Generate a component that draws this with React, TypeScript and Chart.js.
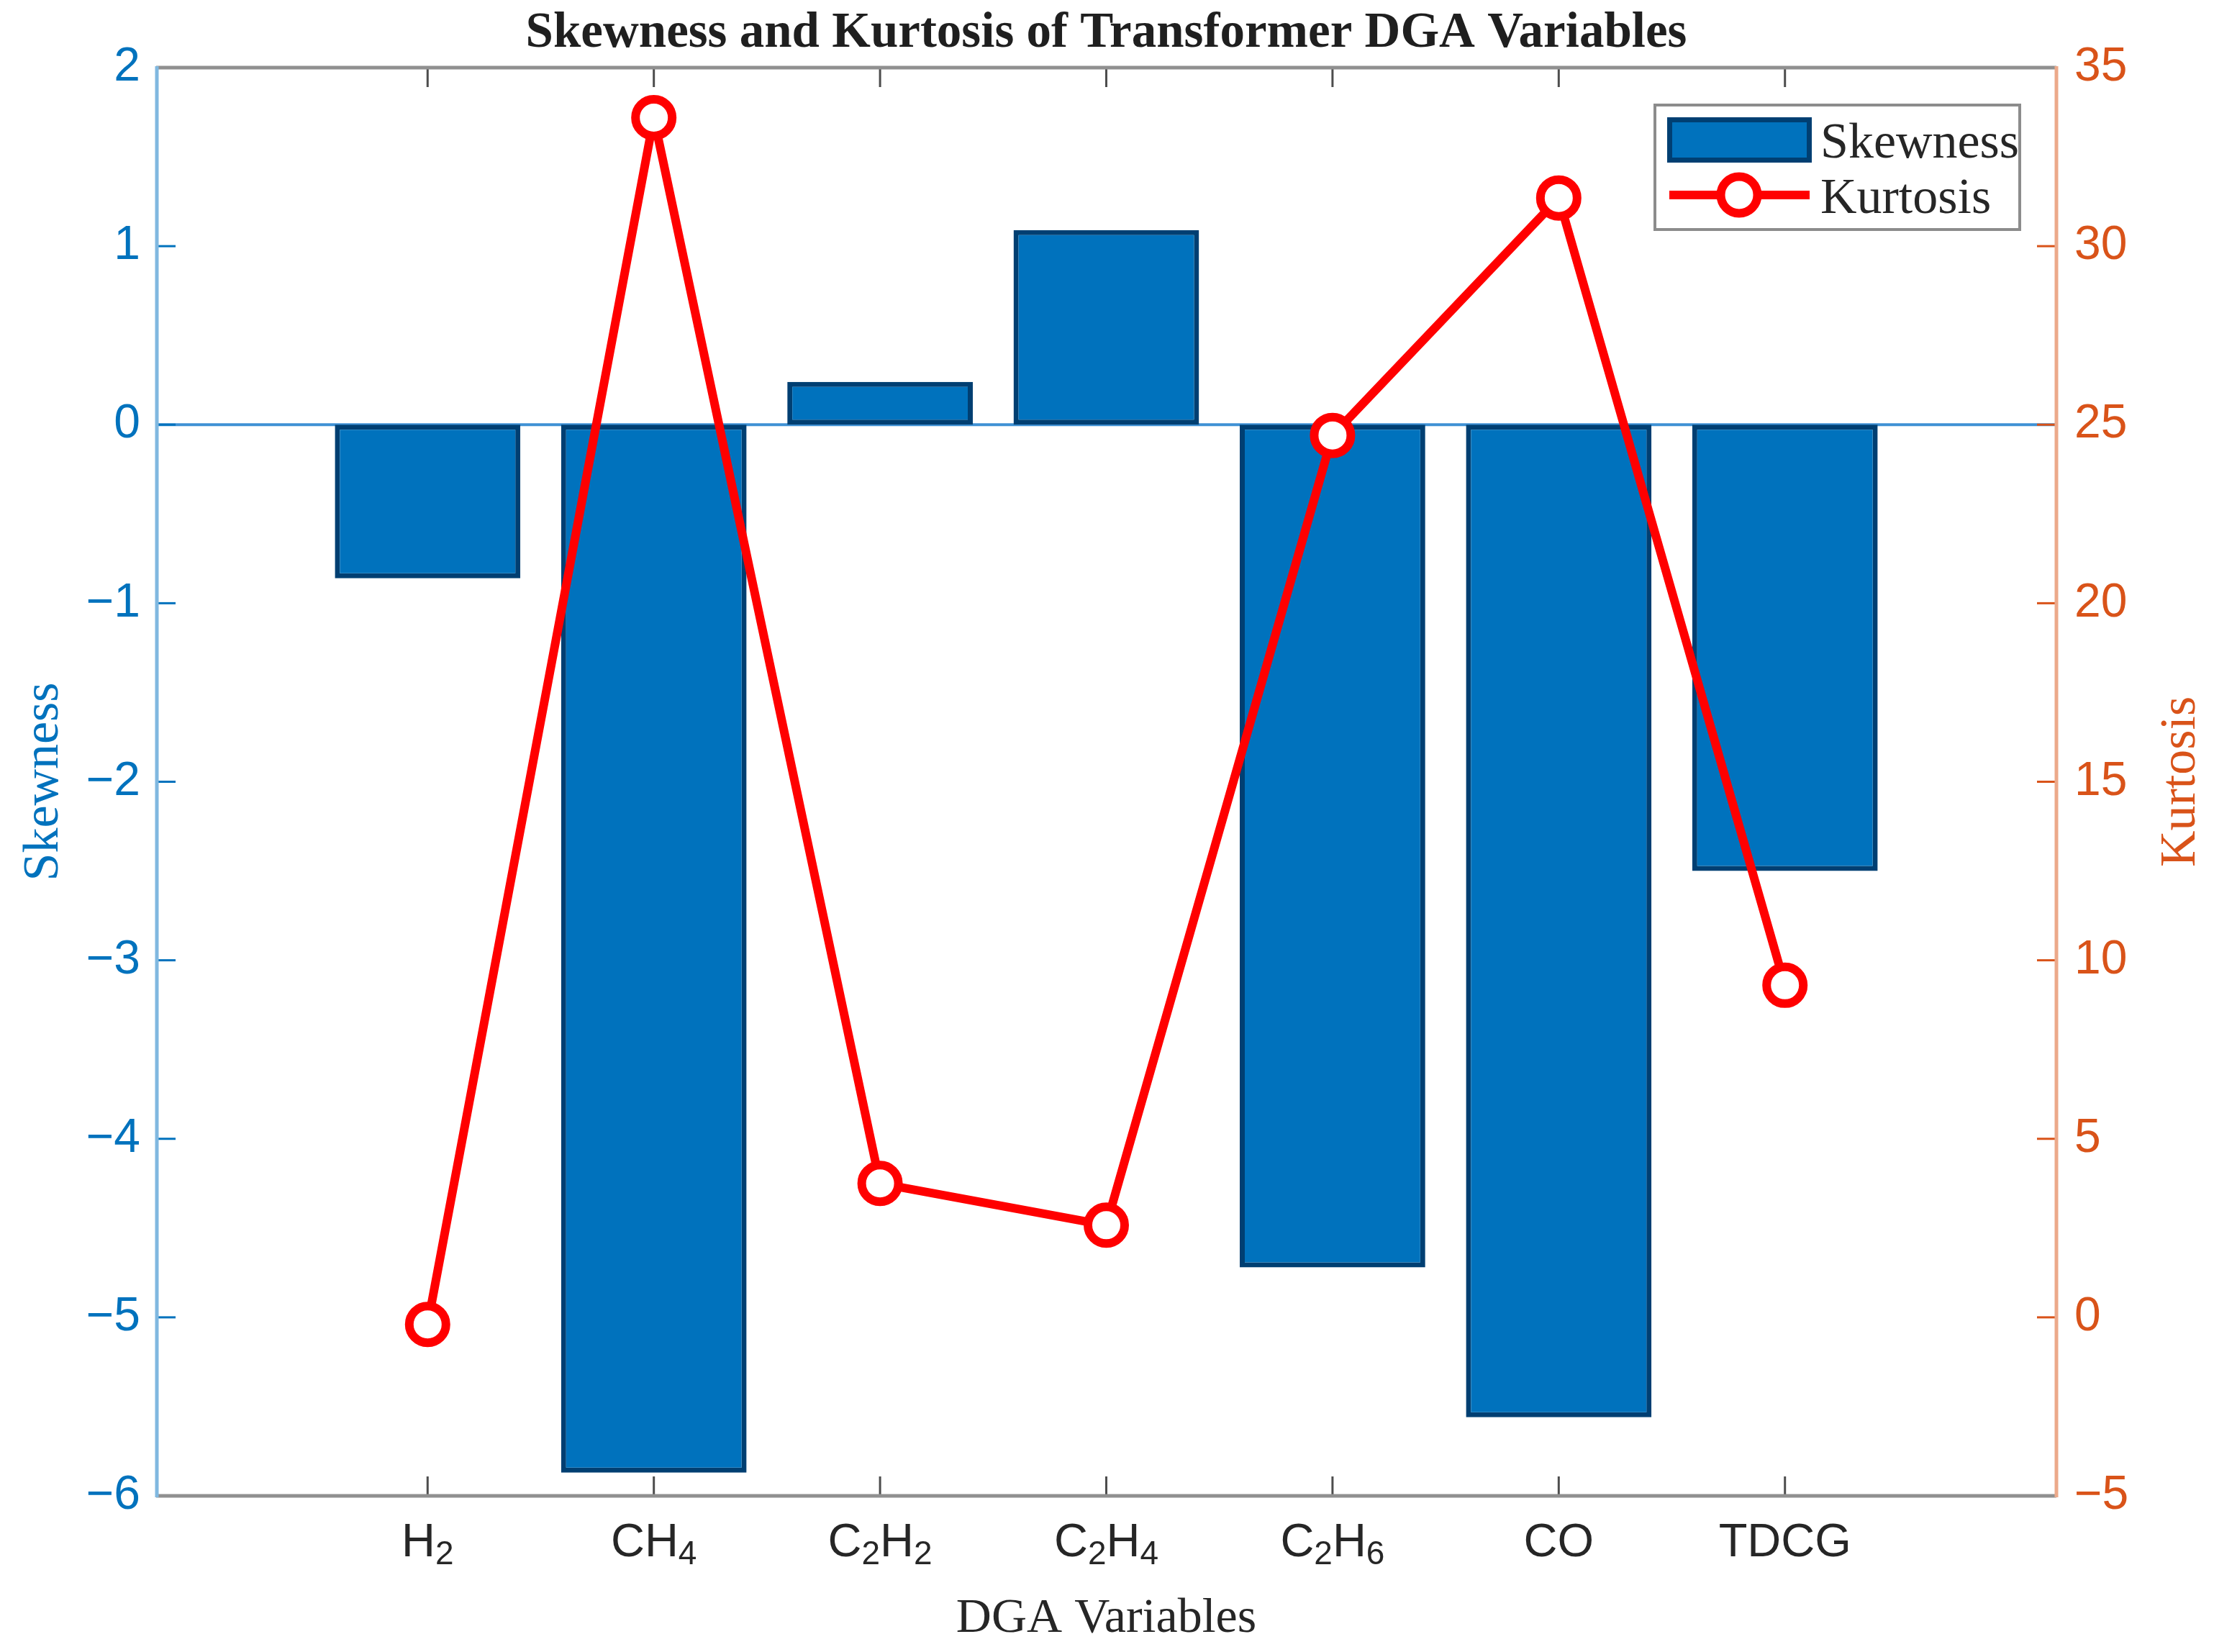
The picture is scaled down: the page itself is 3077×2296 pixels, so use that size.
import { useEffect, useRef } from "react";
import { Chart, registerables, type Chart as ChartType } from "chart.js";

Chart.register(...registerables);

// data
const categories = ["H₂", "CH₄", "C₂H₂", "C₂H₄", "C₂H₆", "CO", "TDCG"];
const skewness = [-0.86, -5.87, 0.24, 1.09, -4.72, -5.56, -2.5];
const kurtosis = [-0.2, 33.6, 3.75, 2.58, 24.7, 31.35, 9.3];

const chartTitle = "Skewness and Kurtosis of Transformer DGA Variables";
const xTitle = "DGA Variables";
const yLeftTitle = "Skewness";
const yRightTitle = "Kurtosis";

const W = 3077;
const H = 2296;
const BLUE = "#0072BD";
const ORANGE = "#D95319";
const TEXT = "#262626";
const SANS = "'Liberation Sans', Arial, sans-serif";
const SERIF = "'Liberation Serif', 'Times New Roman', serif";
const SUB = "₀₁₂₃₄₅₆₇₈₉";

const fmt = (v: number | string) => String(v).replace("-", "\u2212");

// draws e.g. "C₂H₄" with real lowered, smaller digits, centred on cx
function drawFormula(ctx: CanvasRenderingContext2D, text: string, cx: number, baseline: number) {
  const mainFont = `65px ${SANS}`;
  const subFont = `46px ${SANS}`;
  const parts = [...text].map((ch) => {
    const k = SUB.indexOf(ch);
    return k >= 0 ? { t: String(k), sub: true } : { t: ch, sub: false };
  });
  let total = 0;
  const widths = parts.map((p) => {
    ctx.font = p.sub ? subFont : mainFont;
    const w = ctx.measureText(p.t).width;
    total += w;
    return w;
  });
  let x = cx - total / 2;
  ctx.textAlign = "left";
  ctx.textBaseline = "alphabetic";
  parts.forEach((p, i) => {
    ctx.font = p.sub ? subFont : mainFont;
    ctx.fillText(p.t, x, p.sub ? baseline + 11 : baseline);
    x += widths[i];
  });
}

const decor = {
  id: "decor",
  beforeDatasetsDraw(c: ChartType) {
    const { ctx, chartArea } = c;
    const y0 = c.scales.y.getPixelForValue(0);
    ctx.save();
    ctx.strokeStyle = "#3f91d4";
    ctx.lineWidth = 4;
    ctx.beginPath();
    ctx.moveTo(chartArea.left, y0);
    ctx.lineTo(chartArea.right, y0);
    ctx.stroke();
    ctx.restore();
  },
  afterDatasetsDraw(c: ChartType) {
    const { ctx, chartArea } = c;
    const { left, right, top, bottom } = chartArea;
    const tl = 27;
    ctx.save();
    ctx.lineCap = "butt";

    // x tick marks, top and bottom, pointing inward
    ctx.strokeStyle = "#4d4d4d";
    ctx.lineWidth = 3;
    categories.forEach((_, i) => {
      const px = c.scales.x.getPixelForValue(i + 1);
      ctx.beginPath();
      ctx.moveTo(px, bottom);
      ctx.lineTo(px, bottom - tl);
      ctx.moveTo(px, top);
      ctx.lineTo(px, top + tl);
      ctx.stroke();
    });

    // y tick marks
    const yl = c.scales.y;
    ctx.strokeStyle = BLUE;
    yl.ticks.forEach((t) => {
      const py = yl.getPixelForValue(t.value);
      ctx.beginPath();
      ctx.moveTo(left, py);
      ctx.lineTo(left + tl, py);
      ctx.stroke();
    });
    const yr = c.scales.y1;
    ctx.strokeStyle = ORANGE;
    yr.ticks.forEach((t) => {
      const py = yr.getPixelForValue(t.value);
      ctx.beginPath();
      ctx.moveTo(right, py);
      ctx.lineTo(right - tl, py);
      ctx.stroke();
    });

    // box
    ctx.lineWidth = 5;
    ctx.strokeStyle = "#909090";
    ctx.beginPath();
    ctx.moveTo(left, top);
    ctx.lineTo(right, top);
    ctx.moveTo(left, bottom);
    ctx.lineTo(right, bottom);
    ctx.stroke();
    ctx.strokeStyle = "#80b8e0";
    ctx.beginPath();
    ctx.moveTo(left + 1, top - 2);
    ctx.lineTo(left + 1, bottom + 2);
    ctx.stroke();
    ctx.strokeStyle = "#eca98a";
    ctx.beginPath();
    ctx.moveTo(right, top - 2);
    ctx.lineTo(right, bottom + 2);
    ctx.stroke();
    ctx.restore();
  },
  afterDraw(c: ChartType) {
    const { ctx, chartArea } = c;
    const cx = (chartArea.left + chartArea.right) / 2;
    const cy = (chartArea.top + chartArea.bottom) / 2;
    ctx.save();

    // x tick labels
    ctx.fillStyle = TEXT;
    categories.forEach((lab, i) => {
      drawFormula(ctx, lab, c.scales.x.getPixelForValue(i + 1), 2163);
    });

    // title
    ctx.textAlign = "center";
    ctx.textBaseline = "alphabetic";
    ctx.font = `bold 69px ${SERIF}`;
    ctx.fillStyle = "#1f1f1f";
    ctx.fillText(chartTitle, cx, 65);

    // x axis title
    ctx.font = `68px ${SERIF}`;
    ctx.fillStyle = TEXT;
    ctx.fillText(xTitle, cx, 2268);

    // y axis titles, both reading upward
    ctx.font = `70px ${SERIF}`;
    ctx.save();
    ctx.translate(80, cy);
    ctx.rotate(-Math.PI / 2);
    ctx.fillStyle = BLUE;
    ctx.fillText(yLeftTitle, 0, 0);
    ctx.restore();
    ctx.save();
    ctx.translate(3050, cy);
    ctx.rotate(-Math.PI / 2);
    ctx.fillStyle = ORANGE;
    ctx.fillText(yRightTitle, 0, 0);
    ctx.restore();

    // legend
    const ds = c.data.datasets as any[];
    ctx.fillStyle = "#ffffff";
    ctx.fillRect(2300, 146, 507, 173);
    ctx.strokeStyle = "#8c8c8c";
    ctx.lineWidth = 4;
    ctx.strokeRect(2300, 146, 507, 173);

    ctx.fillStyle = ds[0].backgroundColor;
    ctx.fillRect(2317, 163, 201, 63);
    ctx.strokeStyle = ds[0].borderColor;
    ctx.lineWidth = 7;
    ctx.strokeRect(2320.5, 166.5, 194, 56);

    ctx.strokeStyle = ds[1].borderColor;
    ctx.lineWidth = 12;
    ctx.beginPath();
    ctx.moveTo(2320, 271);
    ctx.lineTo(2515, 271);
    ctx.stroke();
    ctx.beginPath();
    ctx.arc(2417, 271, 25.5, 0, Math.PI * 2);
    ctx.fillStyle = "#ffffff";
    ctx.fill();
    ctx.stroke();

    ctx.fillStyle = TEXT;
    ctx.textAlign = "left";
    ctx.font = `70px ${SERIF}`;
    ctx.fillText(ds[0].label, 2530, 219);
    ctx.fillText(ds[1].label, 2530, 296);
    ctx.restore();
  },
};

export default function App() {
  const canvasRef = useRef<HTMLCanvasElement | null>(null);

  useEffect(() => {
    document.body.style.margin = "0";
    const el = canvasRef.current;
    if (!el) return;

    const chart = new Chart(el, {
      type: "bar",
      data: {
        datasets: [
          {
            type: "bar",
            label: "Skewness",
            data: skewness.map((v, i) => ({ x: i + 1, y: v })),
            backgroundColor: BLUE,
            borderColor: "#003f72",
            borderWidth: 7,
            borderSkipped: false,
            barPercentage: 0.82,
            categoryPercentage: 1,
            yAxisID: "y",
            order: 1,
          },
          {
            type: "line",
            label: "Kurtosis",
            data: kurtosis.map((v, i) => ({ x: i + 1, y: v })),
            borderColor: "#ff0000",
            borderWidth: 12,
            pointRadius: 25.5,
            pointBorderWidth: 12,
            pointBackgroundColor: "#ffffff",
            pointBorderColor: "#ff0000",
            tension: 0,
            yAxisID: "y1",
            order: 0,
          },
        ] as any,
      },
      options: {
        responsive: true,
        maintainAspectRatio: false,
        animation: false,
        devicePixelRatio: 1,
        layout: { padding: { top: 94, left: 0, right: 0, bottom: 0 } },
        plugins: {
          legend: { display: false },
          tooltip: { enabled: false },
          title: { display: false },
        },
        scales: {
          x: {
            type: "linear",
            min: -0.2,
            max: 8.2,
            offset: false,
            grid: { display: false, drawTicks: false },
            border: { display: false },
            ticks: { display: false },
            afterBuildTicks: (s: any) => {
              s.ticks = categories.map((_, i) => ({ value: i + 1 }));
            },
            afterFit: (s: any) => {
              s.height = 217;
            },
          },
          y: {
            position: "left",
            min: -6,
            max: 2,
            grid: { display: false, drawTicks: false },
            border: { display: false },
            ticks: {
              stepSize: 1,
              color: BLUE,
              padding: 22,
              font: { family: SANS, size: 66 },
              callback: (v: any) => fmt(v),
            },
            afterFit: (s: any) => {
              s.width = 217;
            },
          },
          y1: {
            position: "right",
            min: -5,
            max: 35,
            grid: { display: false, drawTicks: false },
            border: { display: false },
            ticks: {
              stepSize: 5,
              color: ORANGE,
              padding: 25,
              font: { family: SANS, size: 66 },
              callback: (v: any) => fmt(v),
            },
            afterFit: (s: any) => {
              s.width = W - 2858;
            },
          },
        },
      } as any,
      plugins: [decor],
    });

    return () => chart.destroy();
  }, []);

  return (
    <div style={{ width: W, height: H, position: "relative", background: "#ffffff" }}>
      <canvas ref={canvasRef} />
    </div>
  );
}
